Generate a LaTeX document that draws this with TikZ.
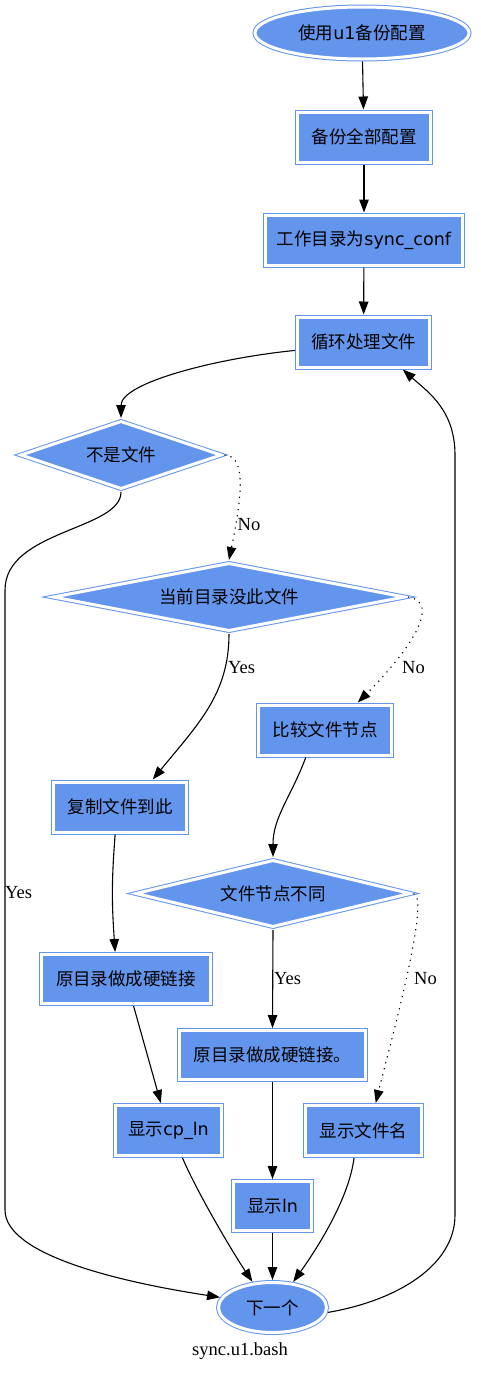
\documentclass[tikz,border=0pt]{standalone}
\usepackage{fontspec}
\setmainfont{Liberation Serif}
\newfontfamily\cjk{Noto Sans CJK SC}
\newfontfamily\dejavu{DejaVu Sans}
\usetikzlibrary{shapes.geometric,arrows.meta}
\definecolor{cornflower}{RGB}{100,149,237}

\begin{document}
\begin{tikzpicture}
[x=1pt, y=-1pt,
 block/.style ={rectangle, draw=cornflower, double=white, double distance=3pt, line width=1pt, fill=cornflower, font=\cjk\fontsize{17.5}{20}\selectfont, minimum height=50pt, inner sep=0pt, outer sep=2.5pt},
 term/.style ={block, ellipse},
 choice/.style ={block, diamond, aspect=3, minimum height=69pt},
 line/.style ={draw, line width=1.1pt, -{Triangle[length=13pt,width=9.5pt]}},
 dotline/.style ={line, dash pattern=on 1.2pt off 5pt},
 lbl/.style ={font=\fontsize{18.5}{20}\selectfont, inner sep=0pt}]
\useasboundingbox (0,0) rectangle (480,1385);
\path (362,33) node[term, minimum width=214pt, minimum height=52pt] (start) {使用{\dejavu u1}备份配置}
      (364,137) node[block, minimum width=133pt] (backup) {备份全部配置}
      (364,240) node[block, minimum width=197pt] (workdir) {工作目录为{\dejavu sync\_conf}}
      (363.5,342) node[block, minimum width=132pt] (loop) {循环处理文件}
      (121,455) node[choice, minimum width=202pt] (notfile) {不是文件}
      (229,597) node[choice, minimum width=353pt] (nothere) {当前目录没此文件}
      (325,730) node[block, minimum width=133pt] (cmp) {比较文件节点}
      (120,807) node[block, minimum width=133pt] (copy) {复制文件到此}
      (273,893.5) node[choice, minimum width=276pt, minimum height=68pt] (differ) {文件节点不同}
      (126,979) node[block, minimum width=169pt, minimum height=49pt] (linkA) {原目录做成硬链接}
      (272.5,1055) node[block, minimum width=186pt, minimum height=49pt] (linkB) {原目录做成硬链接。}
      (168.5,1130.5) node[block, minimum width=106pt] (showcp) {显示{\dejavu cp\_ln}}
      (363.5,1130.5) node[block, minimum width=116pt] (showname) {显示文件名}
      (272.5,1206) node[block, minimum width=78pt, minimum height=49pt] (showln) {显示{\dejavu ln}}
      (272.5,1307.5) node[term, minimum width=108pt, minimum height=50pt] (next) {下一个};
\path (249,525) node[lbl] (noA) {No}
      (241.5,668) node[lbl] (yesA) {Yes}
      (413.5,668) node[lbl] (noB) {No}
      (18.5,893) node[lbl] (yesB) {Yes}
      (287.5,979) node[lbl] (yesC) {Yes}
      (425.5,979) node[lbl] (noC) {No}
      (240,1351) node[lbl] (title) {sync.u1.bash};
\draw[line] (start) -- (backup);
\draw[line] (backup) -- (workdir);
\draw[line] (workdir) -- (loop);
\draw[line] (loop.187) .. controls +(-80,8) and +(0,-35) .. (notfile.north);
\draw[line] (notfile.south) .. controls +(0,38) and (5,530) .. (5,590) -- (5,1210) .. controls (5,1255) and (120,1282) .. (next.169);
\draw[dotline] (notfile.east) .. controls +(25,0) and +(10,-50) .. (nothere.north);
\draw[line] (nothere.south) .. controls +(0,60) and +(45,-55) .. (copy.40);
\draw[dotline] (nothere.east) .. controls +(35,5) and +(50,-50) .. (cmp.40);
\draw[line] (cmp.235) .. controls +(-15,40) and +(0,-40) .. (differ.north);
\draw[line] (copy.-100) .. controls +(-4,50) and +(-3,-45) .. (linkA.112);
\draw[line] (differ.south) -- (linkB.north);
\draw[dotline] (differ.east) .. controls +(18,3) and +(12,-50) .. (showname.66);
\draw[line] (linkA) -- (showcp);
\draw[line] (linkB) -- (showln);
\draw[line] (showcp.-63) .. controls +(15,35) and +(-20,-30) .. (next.128);
\draw[line] (showln) -- (next);
\draw[line] (showname.-109) .. controls +(-5,40) and +(25,-35) .. (next.51);
\draw[line] (next.-5) .. controls +(70,-12) and (455,1265) .. (455,1215) -- (455,455) .. controls (455,410) and (428,392) .. (loop.-35);
\end{tikzpicture}
\end{document}
